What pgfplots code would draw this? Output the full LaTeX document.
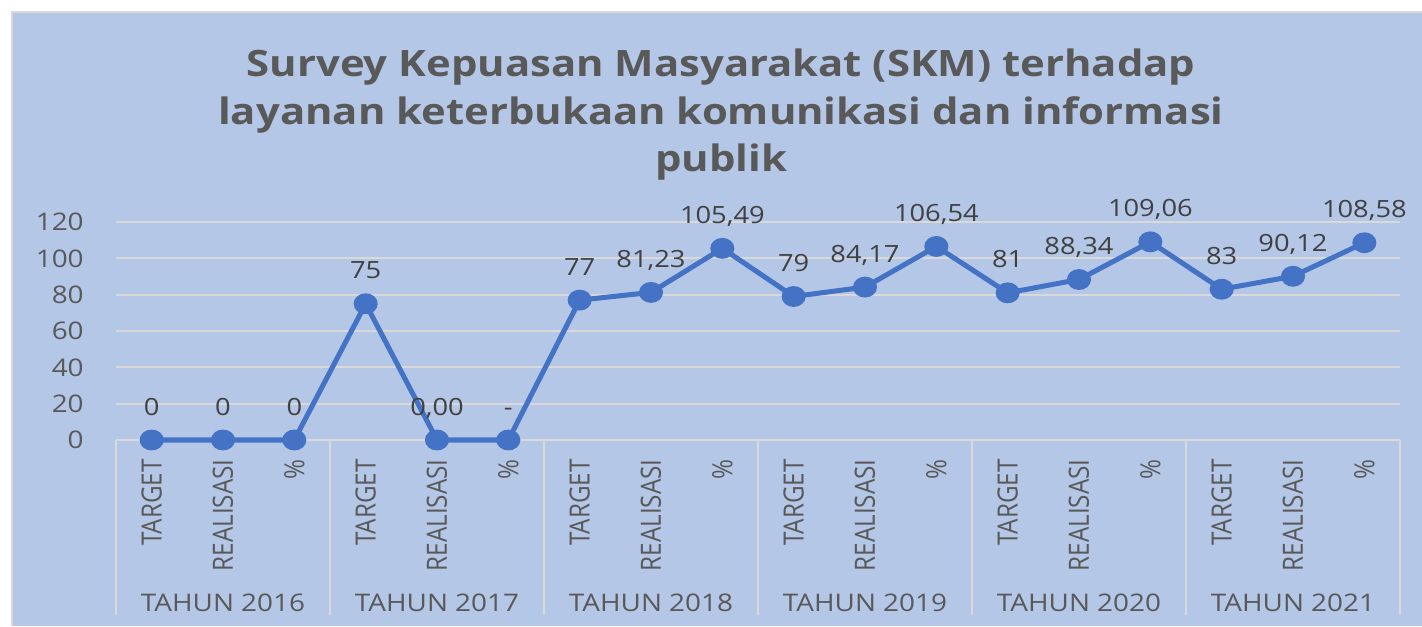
\documentclass[border=0pt]{standalone}
\usepackage{fontspec}
\setmainfont{Open Sans}[FakeStretch=1.15]
\newfontfamily\plainfont{Open Sans}
\usepackage{pgfplots}
\pgfplotsset{compat=1.18}
\definecolor{bgblue}{RGB}{180,199,231}
\definecolor{lineblue}{RGB}{68,114,196}
\definecolor{txt}{RGB}{89,89,89}
\definecolor{lbl}{RGB}{64,64,64}
\definecolor{grd}{RGB}{217,217,217}
\begin{document}
\begin{tikzpicture}
\useasboundingbox (0,0) rectangle (28.44,12.52);
\fill[white] (0,0) rectangle (28.44,12.52);
\fill[bgblue] (0.24,0) rectangle (28.44,12.28);
\draw[grd, line width=1pt] (0.24,0) -- (0.24,12.28) -- (28.44,12.28);
\node[font=\fontsize{20.7}{27}\selectfont\bfseries, text=txt, align=center] at (14.42,10.22)
  {Survey Kepuasan Masyarakat (SKM) terhadap\\layanan keterbukaan komunikasi dan informasi\\publik};
\begin{axis}[
  at={(2.32cm,3.72cm)}, anchor=south west,
  width=25.68cm, height=4.36cm, scale only axis,
  xmin=0, xmax=18, ymin=0, ymax=120,
  clip=false,
  axis line style={draw=none},
  ytick={0,20,...,120},
  ymajorgrids, grid style={grd, line width=1.1pt},
  major tick length=0pt,
  tick style={draw=none},
  xtick pos=bottom,
  xtick={0.5,1.5,...,17.5},
  xticklabels={TARGET,REALISASI,\%,TARGET,REALISASI,\%,TARGET,REALISASI,\%,TARGET,REALISASI,\%,TARGET,REALISASI,\%,TARGET,REALISASI,\%},
  tick label style={font=\fontsize{13.8}{16}\selectfont, text=txt, inner sep=0pt},
  /pgf/number format/assume math mode=true,
  xticklabel style={font=\fontsize{13.8}{16}\plainfont, rotate=90, yscale=1.15, anchor=east},
  xticklabel shift=0.38cm,
  yticklabel style={anchor=east},
  yticklabel shift=0.64cm,
  extra x ticks={0,3,6,9,12,15,18},
  extra x tick labels={},
  extra x tick style={grid=none, major tick length=3.5cm, tick align=outside,
    tick style={draw=grd, line width=1.1pt}},
  nodes near coords,
  point meta=explicit symbolic,
  every node near coord/.append style={font=\fontsize{13.5}{16}\selectfont, text=lbl, anchor=base, inner sep=0pt, yshift=0.5cm},
]
\addplot[lineblue, line width=2.85pt, mark=*, mark size=4.5pt, mark options={fill=lineblue, draw=lineblue, xscale=1.2}]
  table[meta=lab] {
x y lab
0.5 0 0
1.5 0 0
2.5 0 0
3.5 75 75
4.5 0 0,00
5.5 0 -
6.5 77 77
7.5 81.23 81,23
8.5 105.49 105,49
9.5 79 79
10.5 84.17 84,17
11.5 106.54 106,54
12.5 81 81
13.5 88.34 88,34
14.5 109.06 109,06
15.5 83 83
16.5 90.12 90,12
17.5 108.58 108,58
};
\node[font=\fontsize{13.8}{16}\selectfont, text=txt, yshift=-3.26cm] at (axis cs:1.5,0) {TAHUN 2016};
\node[font=\fontsize{13.8}{16}\selectfont, text=txt, yshift=-3.26cm] at (axis cs:4.5,0) {TAHUN 2017};
\node[font=\fontsize{13.8}{16}\selectfont, text=txt, yshift=-3.26cm] at (axis cs:7.5,0) {TAHUN 2018};
\node[font=\fontsize{13.8}{16}\selectfont, text=txt, yshift=-3.26cm] at (axis cs:10.5,0) {TAHUN 2019};
\node[font=\fontsize{13.8}{16}\selectfont, text=txt, yshift=-3.26cm] at (axis cs:13.5,0) {TAHUN 2020};
\node[font=\fontsize{13.8}{16}\selectfont, text=txt, yshift=-3.26cm] at (axis cs:16.5,0) {TAHUN 2021};
\end{axis}
\end{tikzpicture}
\end{document}
